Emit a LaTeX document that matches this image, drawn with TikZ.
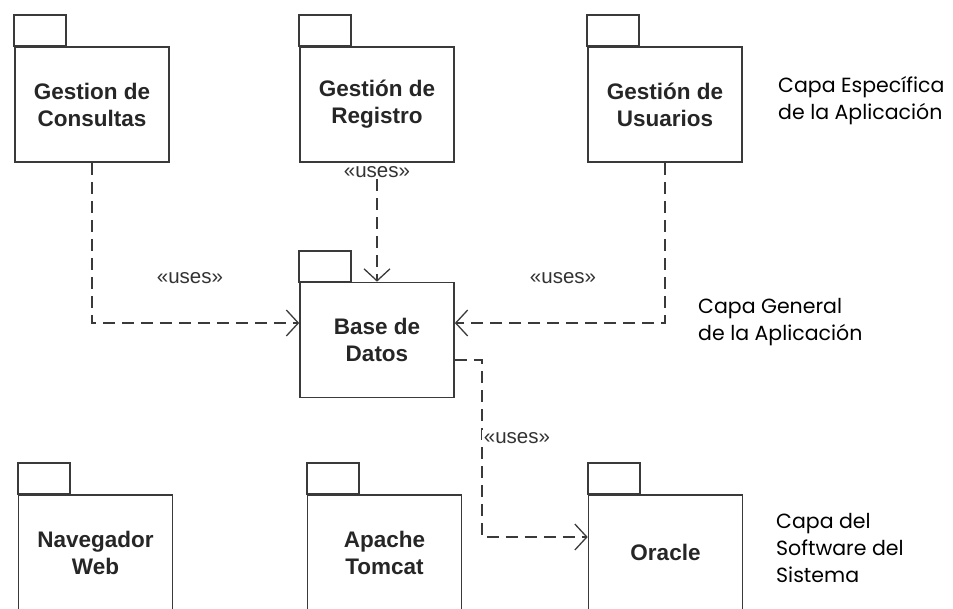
\documentclass[tikz,border=0pt]{standalone}
\usepackage{fontspec}
\setmainfont{Liberation Sans}
\newfontfamily\capafont{Poppins}
\usetikzlibrary{arrows.meta,positioning}
\definecolor{linecol}{HTML}{3A3A3A}
\tikzset{
  pkg/.style={draw=linecol, line width=1.6pt, minimum width=154pt, minimum height=115pt,
    align=center, font=\fontsize{22.5}{27}\selectfont\bfseries, text=black!85},
  uses/.style={draw=linecol, line width=1.6pt, dash pattern=on 12pt off 7pt,
    -{Straight Barb[length=12pt,width=26pt,line width=1.3pt]}},
  lbl/.style={fill=white, inner sep=2pt, font=\fontsize{20.5}{22}\selectfont, text=black!80},
  capa/.style={anchor=west, align=left, inner sep=0pt, font=\capafont\fontsize{20.5}{27}\selectfont}
}
\newcommand{\pkgtab}[1]{\draw[linecol, line width=1.6pt] (#1.north west) rectangle ++(52pt,31pt);}
\begin{document}
\begin{tikzpicture}[x=1pt,y=-1pt]
\useasboundingbox (0,0) rectangle (953,608);
% paquetes
\node[pkg] (cons) at (92,104.5) {Gestion de\\Consultas};
\node[pkg] (reg) at (377,104.5) {Gestión de\\Registro};
\node[pkg] (usu) at (665,104.5) {Gestión de\\Usuarios};
\node[pkg] (base) at (377,340) {Base de\\Datos};
\node[pkg] (nav) at (95.5,552.5) {Navegador\\Web};
\node[pkg] (tom) at (384.5,552.5) {Apache\\Tomcat};
\node[pkg] (ora) at (665.5,552.5) {Oracle};
\pkgtab{cons} \pkgtab{reg} \pkgtab{usu} \pkgtab{base}
\pkgtab{nav} \pkgtab{tom} \pkgtab{ora}
% dependencias
\node[lbl, below=1pt of reg] (ureg) {«uses»};
\draw[uses] (ureg) -- (base);
\draw[uses] (cons.south) |- ([yshift=17pt]base.west);
\node[lbl] (ucons) at (190,278) {«uses»};
\draw[uses] (usu.south) |- ([yshift=17pt]base.east);
\node[lbl] (uusu) at (563,278) {«uses»};
\draw[uses] ([yshift=-20pt]base.east) -- ++(27,0) |- ([yshift=15.5pt]ora.west);
\node[lbl] (uora) at (517,438) {«uses»};
% capas
\node[capa] (espec) at (778,101) {Capa Específica\\de la Aplicación};
\node[capa] (gen) at (698,322) {Capa General\\de la Aplicación};
\node[capa] (sis) at (776,548) {Capa del\\Software del\\Sistema};
\end{tikzpicture}
\end{document}
